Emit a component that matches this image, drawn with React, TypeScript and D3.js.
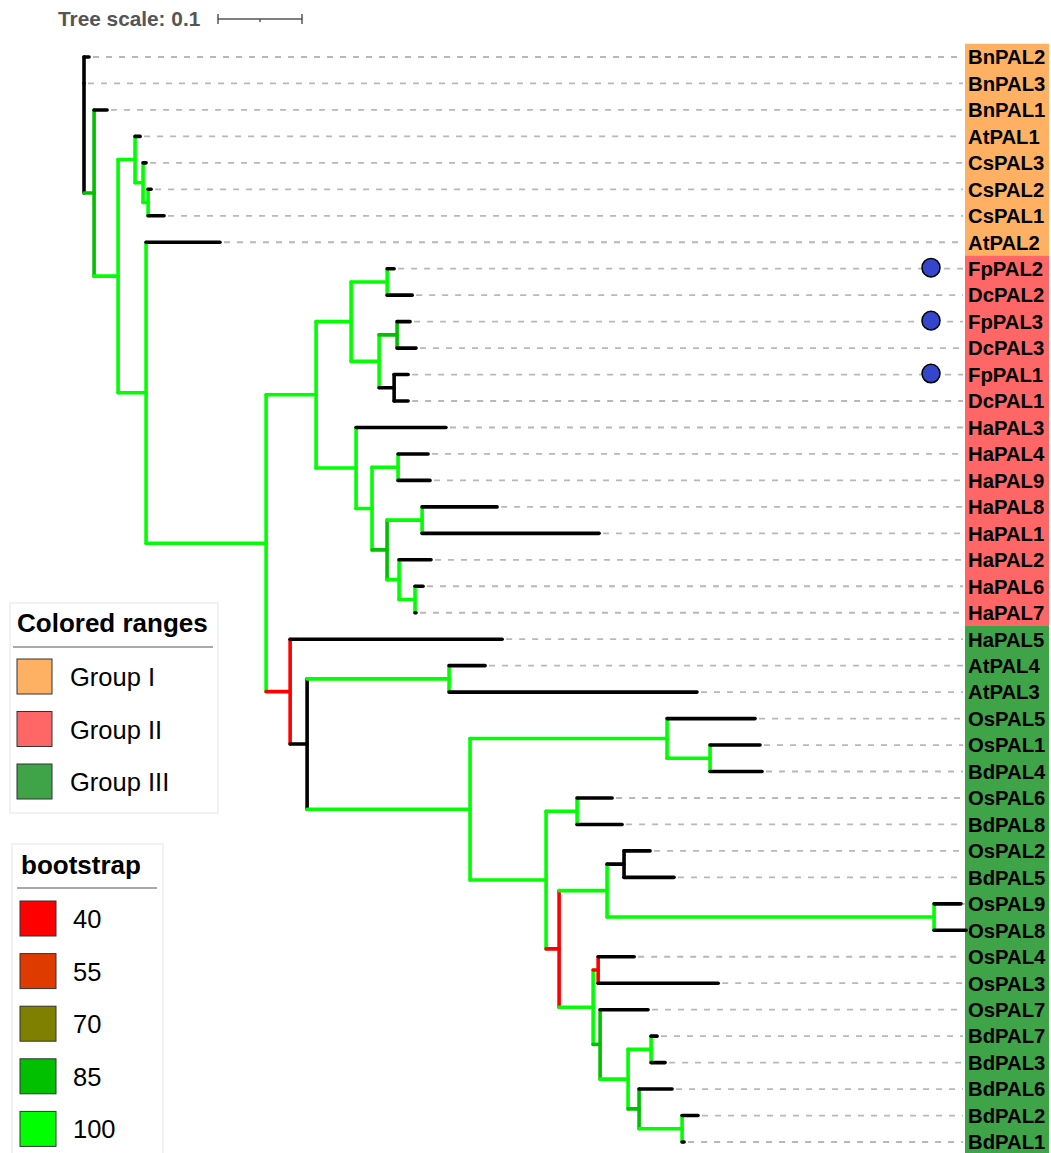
import * as d3 from 'd3'

// tree as [node, parent, branch length, bootstrap]; internal nodes are named by letters
const NODES: [string, string, number, number | null][] = [
  ['R', '', 0, null],
  ['BnPAL2', 'R', 0.006, null],
  ['BnPAL3', 'R', 0, null],
  ['A', 'R', 0.012, 85],
  ['BnPAL1', 'A', 0.0155, null],
  ['B', 'A', 0.0286, 100],
  ['C', 'B', 0.0202, 100],
  ['AtPAL1', 'C', 0.006, null],
  ['E', 'C', 0.0095, 100],
  ['CsPAL3', 'E', 0.0036, null],
  ['F', 'E', 0.006, 100],
  ['CsPAL2', 'F', 0.0036, null],
  ['CsPAL1', 'F', 0.019, null],
  ['D', 'B', 0.0333, 100],
  ['AtPAL2', 'D', 0.088, null],
  ['G', 'D', 0.1429, 100],
  ['H', 'G', 0.0595, 100],
  ['J', 'H', 0.0417, 100],
  ['L', 'J', 0.0429, 100],
  ['FpPAL2', 'L', 0.0083, null],
  ['DcPAL2', 'L', 0.0298, null],
  ['M', 'J', 0.0333, 100],
  ['N', 'M', 0.0214, 85],
  ['FpPAL3', 'N', 0.0155, null],
  ['DcPAL3', 'N', 0.0226, null],
  ['O', 'M', 0.0179, null],
  ['FpPAL1', 'O', 0.0167, null],
  ['DcPAL1', 'O', 0.0167, null],
  ['K', 'H', 0.0476, 100],
  ['HaPAL3', 'K', 0.107, null],
  ['P', 'K', 0.019, 100],
  ['Q', 'P', 0.031, 100],
  ['HaPAL4', 'Q', 0.0357, null],
  ['HaPAL9', 'Q', 0.038, null],
  ['S', 'P', 0.0179, 85],
  ['T', 'S', 0.0417, 100],
  ['HaPAL8', 'T', 0.0893, null],
  ['HaPAL1', 'T', 0.2107, null],
  ['U', 'S', 0.0143, 100],
  ['HaPAL2', 'U', 0.038, null],
  ['V', 'U', 0.019, 100],
  ['HaPAL6', 'V', 0.0095, null],
  ['HaPAL7', 'V', 0.0012, null],
  ['I', 'G', 0.0286, 40],
  ['HaPAL5', 'I', 0.2524, null],
  ['W', 'I', 0.0202, null],
  ['X', 'W', 0.169, 100],
  ['AtPAL4', 'X', 0.0429, null],
  ['AtPAL3', 'X', 0.2952, null],
  ['Y', 'W', 0.194, 100],
  ['Z', 'Y', 0.2345, 100],
  ['OsPAL5', 'Z', 0.1048, null],
  ['AB', 'Z', 0.0512, 100],
  ['OsPAL1', 'AB', 0.0595, null],
  ['BdPAL4', 'AB', 0.0619, null],
  ['AA', 'Y', 0.0905, 100],
  ['AC', 'AA', 0.0369, 100],
  ['OsPAL6', 'AC', 0.0417, null],
  ['BdPAL8', 'AC', 0.0536, null],
  ['AD', 'AA', 0.0155, 40],
  ['AE', 'AD', 0.0571, 100],
  ['AG', 'AE', 0.0202, null],
  ['OsPAL2', 'AG', 0.031, null],
  ['BdPAL5', 'AG', 0.0595, null],
  ['AH', 'AE', 0.3893, 100],
  ['OsPAL9', 'AH', 0.0321, null],
  ['OsPAL8', 'AH', 0.0381, null],
  ['AF', 'AD', 0.0405, 100],
  ['AI', 'AF', 0.006, 40],
  ['OsPAL4', 'AI', 0.0429, null],
  ['OsPAL3', 'AI', 0.1429, null],
  ['AJ', 'AF', 0.0083, 85],
  ['OsPAL7', 'AJ', 0.0571, null],
  ['AK', 'AJ', 0.0333, 100],
  ['AL', 'AK', 0.0274, 100],
  ['BdPAL7', 'AL', 0.0071, null],
  ['BdPAL3', 'AL', 0.0167, null],
  ['AM', 'AK', 0.0131, 85],
  ['BdPAL6', 'AM', 0.0393, null],
  ['AN', 'AM', 0.0512, 100],
  ['BdPAL2', 'AN', 0.019, null],
  ['BdPAL1', 'AN', 0.0024, null],
]

const GROUP_NAMES = ['Group I', 'Group II', 'Group III']
const GROUP_COLORS = ['#ffb163', '#ff6666', '#3ea447']
const GROUP_FIRST = ['BnPAL2', 'FpPAL2', 'HaPAL5']
const GROUP_LAST = ['AtPAL2', 'HaPAL7', 'BdPAL1']

const BOOT_VALUES = [40, 55, 70, 85, 100]
const BOOT_COLORS = ['#ff0000', '#dd3b00', '#808000', '#00c000', '#00ff00']

const MARKED = ['FpPAL2', 'FpPAL3', 'FpPAL1']
const SCALE_UNIT = 0.1

const W = 1051
const H = 1153
const FONT = '"Liberation Sans", Arial, sans-serif'

export default function App() {
  const root = d3
    .stratify<[string, string, number, number | null]>()
    .id((d) => d[0])
    .parentId((d) => (d[1] === '' ? null : d[1]))(NODES)

  // cumulative distance from the root
  const depth = new Map<string, number>()
  root.each((n) => {
    depth.set(n.id!, (n.parent ? depth.get(n.parent.id!)! : 0) + n.data[2])
  })

  const leaves = root.leaves().map((l) => l.id!)
  const x = d3.scaleLinear().domain([0, 1]).range([84, 924])
  const y = d3.scalePoint<string>().domain(leaves).range([57, 1142])
  const boot = d3.scaleLinear<string>().domain(BOOT_VALUES).range(BOOT_COLORS)
  const step = y.step()

  const ypos = new Map<string, number>()
  root.eachAfter((n) => {
    if (!n.children) ypos.set(n.id!, y(n.id!)!)
    else {
      const c = n.children
      ypos.set(n.id!, (ypos.get(c[0].id!)! + ypos.get(c[c.length - 1].id!)!) / 2)
    }
  })

  const nodeColor = (n: d3.HierarchyNode<any>) =>
    n.children && n.data[3] != null ? boot(n.data[3]) : '#000'

  const labelX = 968
  const rangeX = 965

  const branches: JSX.Element[] = []
  root.descendants().forEach((n, i) => {
    const nx = x(depth.get(n.id!)!)
    const ny = ypos.get(n.id!)!
    const col = nodeColor(n)
    if (n.parent) {
      const px = x(depth.get(n.parent.id!)!)
      branches.push(
        <line key={'h' + i} x1={px} x2={nx} y1={ny} y2={ny} stroke={col} strokeWidth={3.6} strokeLinecap="round" />
      )
    }
    if (n.children) {
      const c = n.children
      branches.push(
        <line
          key={'v' + i}
          x1={nx}
          x2={nx}
          y1={ypos.get(c[0].id!)!}
          y2={ypos.get(c[c.length - 1].id!)!}
          stroke={col}
          strokeWidth={3.6}
          strokeLinecap="round"
        />
      )
    }
  })

  const leafNodes = root.leaves()
  const bar = x(SCALE_UNIT) - x(0)

  return (
    <svg
      width={W}
      height={H}
      viewBox={`0 0 ${W} ${H}`}
      style={{ position: 'absolute', left: 0, top: 0, background: '#fff', fontFamily: FONT }}
    >
      {/* colored ranges */}
      {GROUP_NAMES.map((g, i) => {
        const top = y(GROUP_FIRST[i])! - step / 2
        const bot = y(GROUP_LAST[i])! + step / 2
        return <rect key={g} x={rangeX} y={top} width={W - rangeX - 2} height={bot - top} fill={GROUP_COLORS[i]} />
      })}

      {/* leaf guide lines */}
      {leafNodes.map((l) => {
        const tip = x(depth.get(l.id!)!)
        return (
          <line
            key={'d' + l.id}
            x1={tip + 4}
            x2={rangeX - 2}
            y1={y(l.id!)}
            y2={y(l.id!)}
            stroke="#b8b8b8"
            strokeWidth={1.8}
            strokeDasharray="6,7"
          />
        )
      })}

      {branches}

      {/* markers */}
      {MARKED.map((m) => (
        <ellipse key={m} cx={931} cy={y(m)! - 1} rx={9} ry={9.3} fill="#3346cc" stroke="#000" strokeWidth={1.5} />
      ))}

      {/* labels */}
      {leaves.map((l) => (
        <text key={'t' + l} x={labelX} y={y(l)} dy="0.36em" fontSize={20.3} fontWeight="bold" fill="#000">
          {l}
        </text>
      ))}

      {/* tree scale */}
      <text x={58} y={26} fontSize={20.8} fontWeight="bold" fill="#555">
        Tree scale: {SCALE_UNIT}
      </text>
      <g stroke="#555" strokeWidth={1.5}>
        <line x1={218} x2={218 + bar} y1={19} y2={19} />
        <line x1={218} x2={218} y1={14} y2={24} />
        <line x1={218 + bar} x2={218 + bar} y1={14} y2={24} />
        <line x1={218 + bar / 2} x2={218 + bar / 2} y1={19} y2={22} />
      </g>

      {/* legend: colored ranges */}
      <rect x={10} y={603} width={208} height={210} fill="#fff" stroke="#eee" strokeWidth={1.5} />
      <text x={17} y={632} fontSize={26} fontWeight="bold" fill="#000">
        Colored ranges
      </text>
      <line x1={13} x2={213} y1={647} y2={647} stroke="#555" strokeWidth={1.2} />
      {GROUP_NAMES.map((g, i) => (
        <g key={'lg' + g}>
          <rect x={17} y={659 + i * 52.5} width={35} height={35} fill={GROUP_COLORS[i]} stroke="#333" strokeWidth={1} />
          <text x={70} y={686 + i * 52.5} fontSize={25.5} fill="#000">
            {g}
          </text>
        </g>
      ))}

      {/* legend: bootstrap */}
      <rect x={12} y={844} width={151} height={330} fill="#fff" stroke="#eee" strokeWidth={1.5} />
      <text x={21} y={874} fontSize={26} fontWeight="bold" fill="#000">
        bootstrap
      </text>
      <line x1={17} x2={157} y1={888} y2={888} stroke="#555" strokeWidth={1.2} />
      {BOOT_VALUES.map((v, i) => (
        <g key={'lb' + v}>
          <rect x={20} y={901 + i * 52.6} width={36} height={35} fill={BOOT_COLORS[i]} stroke="#333" strokeWidth={1} />
          <text x={73} y={928 + i * 52.6} fontSize={25.5} fill="#000">
            {v}
          </text>
        </g>
      ))}
    </svg>
  )
}
